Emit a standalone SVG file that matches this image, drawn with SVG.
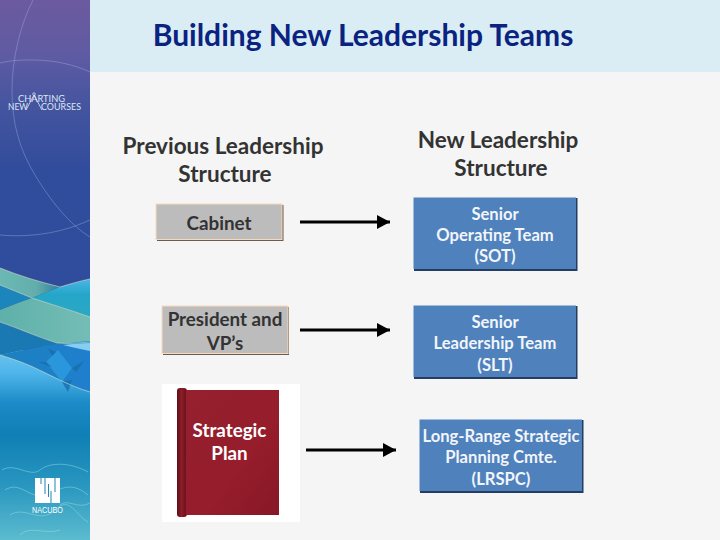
<svg xmlns="http://www.w3.org/2000/svg" width="720" height="540" viewBox="0 0 720 540">
<defs>
<linearGradient id="side" x1="0" y1="0" x2="0" y2="1"><stop offset="0" stop-color="#6c5a9f"/><stop offset="0.1" stop-color="#5f5ba3"/><stop offset="0.2" stop-color="#44549f"/><stop offset="0.32" stop-color="#304c9c"/><stop offset="1" stop-color="#2f4d9c"/></linearGradient>
<linearGradient id="sea" gradientUnits="userSpaceOnUse" x1="0" y1="350" x2="0" y2="540"><stop offset="0" stop-color="#6cc5ef"/><stop offset="0.12" stop-color="#4fb5ea"/><stop offset="0.28" stop-color="#1b8ac6"/><stop offset="0.45" stop-color="#0f7fb5"/><stop offset="0.72" stop-color="#2a97c0"/><stop offset="1" stop-color="#5cbccf"/></linearGradient>
<linearGradient id="mid" x1="0" y1="0" x2="1" y2="0"><stop offset="0" stop-color="#1c80bf"/><stop offset="1" stop-color="#1f7fce"/></linearGradient>
<linearGradient id="tealA" x1="0" y1="0" x2="1" y2="0"><stop offset="0" stop-color="#6bb8b4"/><stop offset="0.6" stop-color="#63aeac"/><stop offset="1" stop-color="#2f7f9c"/></linearGradient>
<linearGradient id="tealB" x1="0" y1="0" x2="1" y2="0"><stop offset="0" stop-color="#5fb0aa"/><stop offset="1" stop-color="#74bdb6"/></linearGradient>
<linearGradient id="cyan" x1="0" y1="0" x2="0" y2="1"><stop offset="0" stop-color="#4cb6e6"/><stop offset="0.4" stop-color="#25a6c9"/><stop offset="1" stop-color="#2aa9c4"/></linearGradient>
<linearGradient id="book" x1="0" y1="0" x2="1" y2="1"><stop offset="0" stop-color="#95202e"/><stop offset="0.6" stop-color="#961d2b"/><stop offset="1" stop-color="#861826"/></linearGradient>
<linearGradient id="spine" x1="0" y1="0" x2="1" y2="0"><stop offset="0" stop-color="#5f0c15"/><stop offset="0.45" stop-color="#8c1d29"/><stop offset="1" stop-color="#640f18"/></linearGradient>
<marker id="head" markerUnits="userSpaceOnUse" markerWidth="14" markerHeight="15" refX="13" refY="7" orient="auto"><path d="M0 0L13 7L0 14Z" fill="#000"/></marker>
</defs>
<style>
text{font-family:"Lato","Carlito","Open Sans",sans-serif;font-weight:700;text-anchor:middle}
.head{font-size:22.5px;fill:#333333}
.grey{fill:#bcbcbc;stroke:#f7d9bd;stroke-width:1}
.shadow{fill:#6f5a4b}
.gt{font-size:18.800px;fill:#333333}
.blue{fill:#4f81bd}
.bshadow{fill:#233d63}
.bt{font-size:16.600px;fill:#f2f5fa}
.pt{font-size:18.800px;fill:#ffffff}
.conn{stroke:#000;stroke-width:3.200;fill:none;marker-end:url(#head)}
.arc{fill:none;stroke:#9fb4e0;stroke-width:.8;opacity:.5}
.logo{fill:#dbe6f5;font-weight:400;font-size:8.600px;text-anchor:start}
.crest{fill:none;stroke:#e6e7c6;stroke-width:.7;opacity:.8}
</style>
<rect width="720" height="540" fill="#f5f5f5"/>
<rect x="90" width="630" height="72" fill="#daedf4"/>
<text x="363" y="46" font-size="30" fill="#0a2380">Building New Leadership Teams</text>
<g id="sidebar">
<rect width="90" height="540" fill="url(#side)"/>
<path class="arc" d="M33 0C20 25 12 60 12 90C12 125 20 150 35 175C50 200 70 225 90 237"/>
<path class="arc" d="M0 63C12 60 22 60 33 60C55 60 75 65 90 72"/>
<path class="arc" d="M0 235C12 236 22 236 33 235C55 233 72 228 90 220"/>
<rect y="350" width="90" height="190" fill="url(#sea)"/>
<path d="M0 268C20 276 40 282 60 287L32 298C20 293 10 289 0 285Z" fill="url(#tealA)"/>
<path d="M0 285C10 289 20 293 32 298C20 302 10 306 0 310Z" fill="#1c86bc"/>
<path d="M60 287C70 284 80 281 90 279V317C70 310 50 304 32 298Z" fill="url(#cyan)"/>
<path d="M0 310C10 306 20 302 32 298C50 304 70 310 90 317V342C78 343 68 344 57 343C35 336 18 328 0 322Z" fill="url(#tealB)"/>
<path d="M0 322C18 328 35 336 57 343C68 344 78 343 90 342V346L43 346C28 349 14 352 0 355Z" fill="#1a78b3"/>
<path d="M0 355C14 352 28 349 43 346C58 344 75 342 90 341V392C70 386 52 376 33 367C22 362 10 358 0 355Z" fill="url(#mid)"/>
<path d="M63 345C72 344 81 343 90 343V351C80 349 71 347 63 345Z" fill="#84cff0"/>
<path d="M58 350L72 368L62 382L46 362Z" fill="#2a96dc"/>
<path d="M38 362L46 362L52 367ZM72 368L84 361L76 372ZM62 382L72 380L68 392ZM48 348L56 352L52 356Z" fill="#176ea8" opacity=".75"/>
<path class="crest" d="M0 268C20 276 40 282 60 287C70 284 80 281 90 279M0 285C10 289 20 293 32 298C50 304 70 310 90 317M0 322C18 328 35 336 57 343C68 344 78 343 90 342M0 355C10 358 22 362 33 367C52 376 70 386 90 392"/>
<path d="M5 490C20 480 30 500 45 495S70 480 88 495M10 515C25 505 40 525 55 510S75 515 88 522M2 470C15 462 30 478 40 470S70 462 88 472M20 535C30 525 45 535 60 530M60 505C68 498 78 510 90 503" fill="none" stroke="#a5e0e2" stroke-width="1" opacity=".45"/>
<text class="logo" x="18" y="101.500" textLength="47" lengthAdjust="spacingAndGlyphs">CHARTING</text>
<text class="logo" x="8" y="110" textLength="20" lengthAdjust="spacingAndGlyphs">NEW</text>
<text class="logo" x="41" y="110" textLength="40" lengthAdjust="spacingAndGlyphs">COURSES</text>
<path d="M26 110L34 95L42 110" fill="none" stroke="#dbe6f5" stroke-width=".8"/>
<circle cx="34" cy="94" r="1.300" fill="none" stroke="#dbe6f5" stroke-width=".7"/>
<rect x="35" y="478" width="25" height="25" fill="#fff"/>
<path d="M41 478V484M45 478V494M48.500 484V497M51 491V503M55 478V492" stroke="#1f86b6" stroke-width="1"/>
<text x="47.500" y="513" font-size="8.800" fill="#fff" style="font-weight:400;font-family:'Liberation Sans','Arial',sans-serif" textLength="31" lengthAdjust="spacingAndGlyphs">NACUBO</text>
</g>
<text class="head" x="223" y="154">Previous Leadership</text>
<text class="head" x="225" y="182">Structure</text>
<text class="head" x="498" y="148">New Leadership</text>
<text class="head" x="501" y="176">Structure</text>
<g id="cabinet">
<rect class="shadow" x="157" y="205" width="126.500" height="36"/>
<rect class="grey" x="156" y="204" width="126" height="35.500"/>
<text class="gt" x="219" y="230">Cabinet</text>
</g>
<g id="president">
<rect class="shadow" x="163" y="307" width="126" height="48"/>
<rect class="grey" x="162" y="306" width="126" height="47.500"/>
<text class="gt" x="225" y="326">President and</text>
<text class="gt" x="225" y="350">VP’s</text>
</g>
<g id="plan">
<rect x="162" y="384" width="138" height="138" fill="#fff"/>
<rect x="177" y="388" width="10" height="129" rx="3" fill="url(#spine)"/>
<rect x="186" y="390" width="93" height="125" fill="url(#book)"/>
<text class="pt" x="229.500" y="437">Strategic</text>
<text class="pt" x="229.500" y="460">Plan</text>
</g>
<g id="sot">
<rect class="bshadow" x="414" y="198" width="163.500" height="73"/>
<rect class="blue" x="413.500" y="197.500" width="162.500" height="71.500"/>
<text class="bt" x="495" y="220">Senior</text>
<text class="bt" x="495" y="241">Operating Team</text>
<text class="bt" x="495" y="262">(SOT)</text>
</g>
<g id="slt">
<rect class="bshadow" x="414" y="306" width="163.500" height="73"/>
<rect class="blue" x="413.500" y="305.500" width="162.500" height="71.500"/>
<text class="bt" x="495" y="328">Senior</text>
<text class="bt" x="495" y="349">Leadership Team</text>
<text class="bt" x="495" y="371">(SLT)</text>
</g>
<g id="lrspc">
<rect class="bshadow" x="420" y="420" width="163.500" height="73"/>
<rect class="blue" x="419.500" y="419.500" width="162.500" height="71.500"/>
<text class="bt" x="501" y="442">Long-Range Strategic</text>
<text class="bt" x="501" y="463">Planning Cmte.</text>
<text class="bt" x="501" y="485">(LRSPC)</text>
</g>
<g id="connectors">
<path class="conn" d="M300 222H390"/>
<path class="conn" d="M300 330H390"/>
<path class="conn" d="M306 450H396"/>
</g>
</svg>
